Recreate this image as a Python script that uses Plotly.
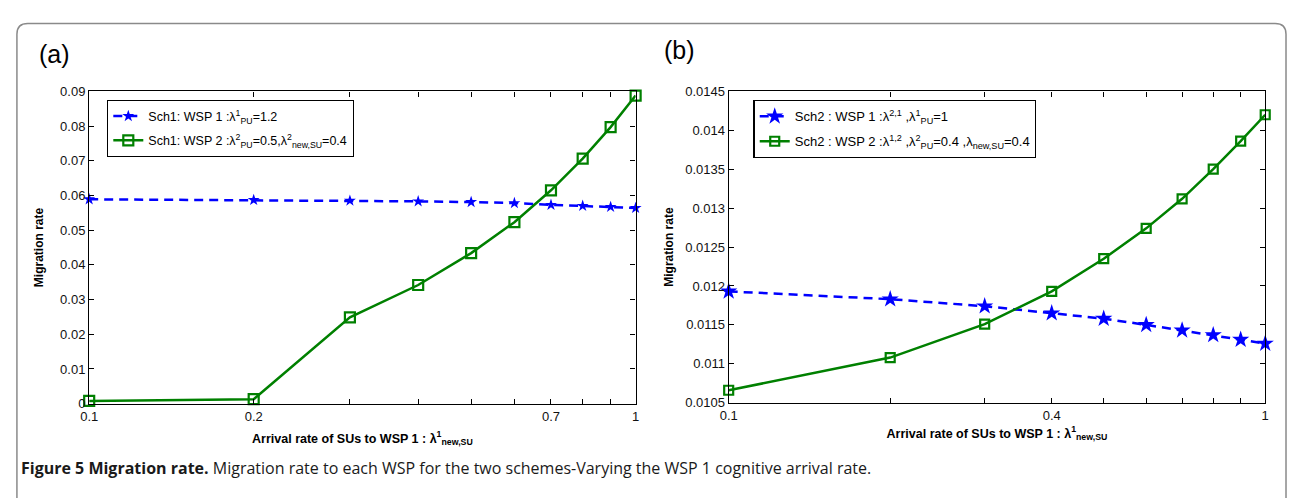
import plotly.graph_objects as go

# ---- data ----
x_rate = [0.1, 0.2, 0.3, 0.4, 0.5, 0.6, 0.7, 0.8, 0.9, 1.0]

a_wsp1 = [0.0589, 0.0587, 0.0585, 0.0583, 0.0581, 0.0578, 0.0573, 0.0570, 0.0567, 0.0564]
a_wsp2 = [0.0008, 0.0013, 0.0249, 0.0342, 0.0434, 0.0523, 0.0615, 0.0706, 0.0797, 0.0888]

b_wsp1 = [0.01193, 0.01183, 0.01174, 0.01165, 0.01158, 0.01150, 0.01143, 0.01137, 0.01131, 0.01126]
b_wsp2 = [0.01066, 0.01108, 0.01151, 0.01193, 0.01235, 0.01274, 0.01312, 0.01350, 0.01386, 0.01420]

a_xticks = [0.1, 0.2, 0.3, 0.4, 0.5, 0.6, 0.7, 0.8, 0.9, 1.0]
a_xtext = ["0.1", "0.2", "", "", "", "", "0.7", "", "", "1"]
b_xticks = [0.1, 0.2, 0.3, 0.4, 0.5, 0.6, 0.7, 0.8, 0.9, 1.0]
b_xtext = ["0.1", "", "", "0.4", "", "", "", "", "", "1"]

a_yticks = [0, 0.01, 0.02, 0.03, 0.04, 0.05, 0.06, 0.07, 0.08, 0.09]
a_ytext = ["0", "0.01", "0.02", "0.03", "0.04", "0.05", "0.06", "0.07", "0.08", "0.09"]
b_yticks = [0.0105, 0.011, 0.0115, 0.012, 0.0125, 0.013, 0.0135, 0.014, 0.0145]
b_ytext = ["0.0105", "0.011", "0.0115", "0.012", "0.0125", "0.013", "0.0135", "0.014", "0.0145"]

names = {
    "a1": "Sch1: WSP 1 :λ<sup>1</sup><sub>PU</sub>=1.2",
    "a2": "Sch1: WSP 2 :λ<sup>2</sup><sub>PU</sub>=0.5,λ<sup>2</sup><sub>new,SU</sub>=0.4",
    "b1": "Sch2 : WSP 1 :λ<sup>2,1</sup> ,λ<sup>1</sup><sub>PU</sub>=1",
    "b2": "Sch2 : WSP 2 :λ<sup>1,2</sup> ,λ<sup>2</sup><sub>PU</sub>=0.4 ,λ<sub>new,SU</sub>=0.4",
}

BLUE = "#0000ff"
GREEN = "#008000"
W, H = 1291, 498
FONT = "Liberation Sans"

fig = go.Figure()

fig.add_trace(go.Scatter(x=x_rate, y=a_wsp1, name=names["a1"], mode="lines+markers",
                         line=dict(color=BLUE, width=2.5, dash="9px,6px"),
                         marker=dict(symbol="star", size=9, color=BLUE),
                         cliponaxis=False, xaxis="x", yaxis="y", legend="legend", legendgroup="a1"))
fig.add_trace(go.Scatter(x=x_rate, y=a_wsp2, name=names["a2"], mode="lines+markers",
                         line=dict(color=GREEN, width=2.5),
                         marker=dict(symbol="square-open", size=10, color=GREEN, line=dict(width=2.2)),
                         cliponaxis=False, xaxis="x", yaxis="y", legend="legend", legendgroup="a2"))
fig.add_trace(go.Scatter(x=x_rate, y=b_wsp1, name=names["b1"], mode="lines+markers",
                         line=dict(color=BLUE, width=2.5, dash="9px,6px"),
                         marker=dict(symbol="star", size=13, color=BLUE),
                         cliponaxis=False, xaxis="x2", yaxis="y2", legend="legend2", legendgroup="b1"))
fig.add_trace(go.Scatter(x=x_rate, y=b_wsp2, name=names["b2"], mode="lines+markers",
                         line=dict(color=GREEN, width=2.5),
                         marker=dict(symbol="square-open", size=9, color=GREEN, line=dict(width=2.2)),
                         cliponaxis=False, xaxis="x2", yaxis="y2", legend="legend2", legendgroup="b2"))

def px_x(p):
    return p / W

def px_y(p):
    return 1 - p / H

axis_common = dict(showline=True, linecolor="black", linewidth=1.3, mirror="ticks",
                   ticks="inside", ticklen=5, tickcolor="black", tickwidth=1,
                   showgrid=False, zeroline=False,
                   tickfont=dict(family=FONT, size=13, color="#111"))

xtitle = "<b>Arrival rate of SUs to WSP 1 : λ<sup>1</sup><sub>new,SU</sub></b>"

fig.update_layout(
    width=W, height=H,
    margin=dict(l=0, r=0, t=0, b=0),
    paper_bgcolor="white", plot_bgcolor="white",
    font=dict(family=FONT, size=12, color="black"),
    xaxis=dict(axis_common, type="log", range=[-1, 0], domain=[px_x(81), px_x(633)],
               tickmode="array", tickvals=a_xticks, ticktext=a_xtext, anchor="y",
               ticklabelstandoff=1,
               title=dict(text=xtitle, font=dict(family=FONT, size=12.5), standoff=10)),
    yaxis=dict(axis_common, range=[0, 0.09], domain=[px_y(409), px_y(87)],
               tickmode="array", tickvals=a_yticks, ticktext=a_ytext, anchor="x",
               title=dict(text="<b>Migration rate</b>", font=dict(family=FONT, size=12), standoff=13)),
    xaxis2=dict(axis_common, type="log", range=[-1, 0], domain=[px_x(727), px_x(1269)],
                tickmode="array", tickvals=b_xticks, ticktext=b_xtext, anchor="y2",
                ticklabelstandoff=1,
                title=dict(text=xtitle, font=dict(family=FONT, size=12.5), standoff=6)),
    yaxis2=dict(axis_common, range=[0.0105, 0.0145], domain=[px_y(408), px_y(87)],
                tickmode="array", tickvals=b_yticks, ticktext=b_ytext, anchor="x2",
                title=dict(text="<b>Migration rate</b>", font=dict(family=FONT, size=12), standoff=8)),
    legend=dict(x=px_x(99), y=px_y(96), xanchor="left", yanchor="top",
                bgcolor="white", bordercolor="black", borderwidth=1.3,
                font=dict(family=FONT, size=12.5, color="black"), tracegroupgap=5,
                itemwidth=30),
    legend2=dict(x=px_x(752), y=px_y(96), xanchor="left", yanchor="top",
                 bgcolor="white", bordercolor="black", borderwidth=1.3,
                 font=dict(family=FONT, size=13, color="black"), tracegroupgap=5,
                 itemwidth=30),
    showlegend=True,
)

# panel frame (rounded top corners, open at the bottom)
fig.add_shape(type="path", xref="paper", yref="paper",
              path=f"M {px_x(8)},{-0.1} L {px_x(8)},{px_y(28)} Q {px_x(8)},{px_y(17)} {px_x(19)},{px_y(17)} "
                   f"L {px_x(1279)},{px_y(17)} Q {px_x(1290)},{px_y(17)} {px_x(1290)},{px_y(28)} L {px_x(1290)},{-0.1}",
              line=dict(color="#8a8a8a", width=1.5))

fig.add_annotation(text="(a)", x=px_x(28), y=px_y(48), xref="paper", yref="paper",
                   xanchor="left", yanchor="middle", showarrow=False,
                   font=dict(family=FONT, size=25, color="black"))
fig.add_annotation(text="(b)", x=px_x(660), y=px_y(44), xref="paper", yref="paper",
                   xanchor="left", yanchor="middle", showarrow=False,
                   font=dict(family=FONT, size=25, color="black"))

fig.add_annotation(
    text="<b>Figure 5 Migration rate.</b> Migration rate to each WSP for the two schemes-Varying the WSP 1 cognitive arrival rate.",
    x=px_x(10), y=px_y(475), xref="paper", yref="paper", xanchor="left", yanchor="middle",
    showarrow=False, font=dict(family="Open Sans", size=16, color="#1a1a1a"))

fig.write_html("out.html", config={"displayModeBar": False},
               post_script="document.body.style.margin='0px';")
